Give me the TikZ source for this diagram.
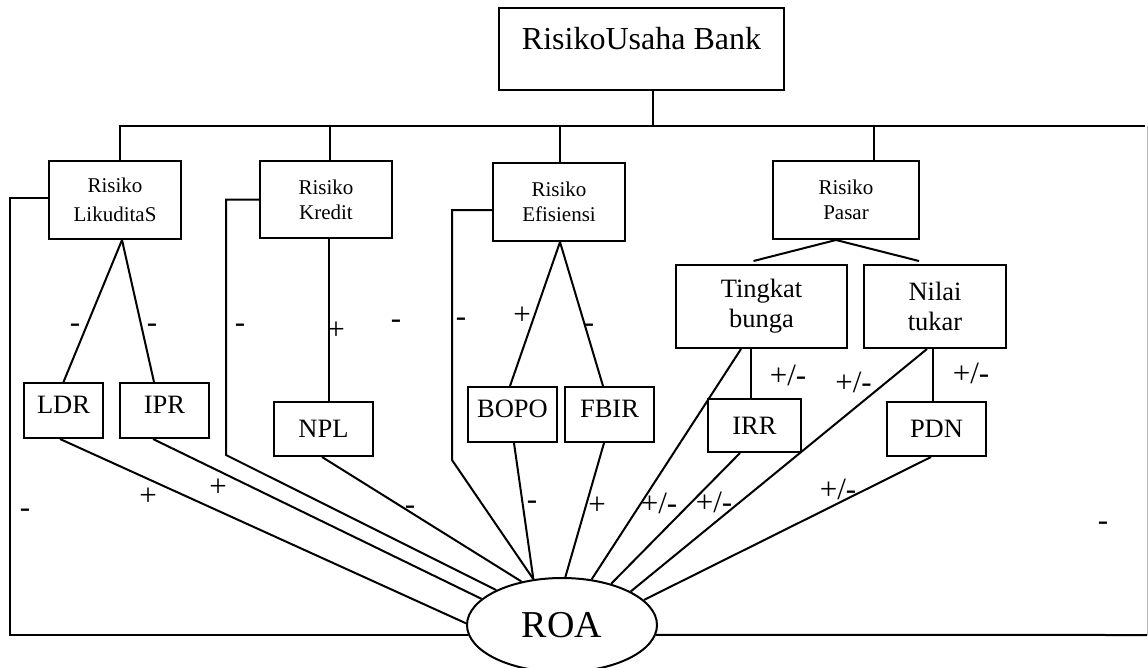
\documentclass[tikz,border=0pt]{standalone}
\usepackage{fontspec}
\setmainfont{Liberation Serif}
\usetikzlibrary{shapes.geometric}
\newcommand\fRsk{\fontsize{21}{25}\selectfont}
\newcommand\fRskL{\fontsize{21}{29}\selectfont}
\newcommand\fBx{\fontsize{26.5}{30}\selectfont}
\newcommand\fLb{\fontsize{31}{36}\selectfont}
\newcommand\fTp{\fontsize{32}{38}\selectfont}
\newcommand\fRoa{\fontsize{38}{42}\selectfont}
\begin{document}
\begin{tikzpicture}[x=1pt,y=-1pt,line width=2pt,
  rbox/.style={draw,inner sep=0pt,align=center,font=\fRsk},
  mbox/.style={draw,inner sep=0pt,align=center,font=\fBx,minimum height=83pt},
  sbox/.style={draw,inner sep=0pt,font=\fBx,anchor=base},
  lab/.style={inner sep=0pt,font=\fLb,anchor=base}]
\useasboundingbox (0,0) rectangle (1148,667);
% boxes
\node[draw,inner sep=0pt,font=\fTp,minimum width=285pt,text height=41pt,text depth=41pt,anchor=base] (top) at (641.5,49) {RisikoUsaha Bank};
\node[rbox,font=\fRskL,minimum width=132pt,minimum height=78pt] (lik) at (115,200) {Risiko\\LikuditaS};
\node[rbox,minimum width=132pt,minimum height=77pt] (kre) at (326,199.5) {Risiko\\Kredit};
\node[rbox,minimum width=132pt,minimum height=78pt] (efi) at (559,202) {Risiko\\Efisiensi};
\node[rbox,minimum width=146pt,minimum height=78pt] (pas) at (846,200) {Risiko\\Pasar};
\node[mbox,minimum width=171pt] (ting) at (761.5,306.5) {Tingkat\\bunga};
\node[mbox,minimum width=142pt] (nil) at (935,306.5) {Nilai\\tukar};
\node[sbox,minimum width=79pt,text height=30pt,text depth=25pt] (ldr) at (63.5,413) {LDR};
\node[sbox,minimum width=89pt,text height=30pt,text depth=25pt] (ipr) at (164.5,413) {IPR};
\node[sbox,minimum width=99pt,text height=35pt,text depth=19pt] (npl) at (323.5,437) {NPL};
\node[sbox,minimum width=89pt,text height=30pt,text depth=25pt] (bopo) at (512.5,417) {BOPO};
\node[sbox,minimum width=89pt,text height=30pt,text depth=25pt] (fbir) at (609.5,417) {FBIR};
\node[sbox,minimum width=93pt,text height=35pt,text depth=18pt] (irr) at (754.5,434) {IRR};
\node[sbox,minimum width=99pt,text height=35pt,text depth=19pt] (pdn) at (936.5,437) {PDN};
\node[draw,ellipse,inner sep=0pt,minimum width=190pt,minimum height=94pt,font=\fRoa] (roa) at (562,625) {ROA};
% coordinates
\coordinate (busR) at (1145,126);
\coordinate (tr) at (1147,126);
\coordinate (br) at (1147,635);
\coordinate (lc) at (10,198);
\coordinate (kc1) at (226,199.5);
\coordinate (kc2) at (226,455);
\coordinate (ec1) at (452,210);
\coordinate (ec2) at (452,460);
% bus
\draw ([xshift=5pt]lik.north) |- (busR);
\draw ([xshift=4pt]kre.north) -- ([xshift=4pt]kre.north |- busR);
\draw ([xshift=1pt]efi.north) -- ([xshift=1pt]efi.north |- busR);
\draw ([xshift=28pt]pas.north) -- ([xshift=28pt]pas.north |- busR);
\draw ([xshift=11pt]top.south) -- ([xshift=11pt]top.south |- busR);
\draw[gray!55,line width=0.8pt] (tr) -- (br);
% tree
\draw ([xshift=7pt]lik.south) -- (ldr.north);
\draw ([xshift=7pt]lik.south) -- ([xshift=-10.5pt]ipr.north);
\draw ([xshift=3pt]kre.south) -- ([xshift=3pt]kre.south |- npl.north);
\draw ([xshift=1pt]efi.south) -- ([xshift=-2.5pt]bopo.north);
\draw ([xshift=1pt]efi.south) -- ([xshift=-6.5pt]fbir.north);
\draw ([xshift=-10pt]pas.south) -- ([xshift=-8pt,yshift=3pt]ting.north);
\draw ([xshift=-10pt]pas.south) -- ([xshift=-16pt,yshift=3pt]nil.north);
\draw ([xshift=-10.5pt]ting.south) -- ([xshift=-10.5pt]ting.south |- irr.north);
\draw ([xshift=-2pt]nil.south) -- ([xshift=-2pt]nil.south |- pdn.north);
% to ROA
\draw ([yshift=2pt]lik.west) -- (lc) |- (roa.186);
\draw (roa.354) -- (br);
\draw (kre.west) -- (kc1) -- (kc2) -- (roa.152);
\draw ([yshift=-8pt]efi.west) -- (ec1) -- (ec2) -- (roa.122);
\draw ([xshift=-3.5pt]ldr.south) -- (roa.179);
\draw ([xshift=-11.5pt]ipr.south) -- (roa.162);
\draw ([xshift=-1.5pt]npl.south) -- (roa.133);
\draw ([xshift=1.5pt]bopo.south) -- (roa.122);
\draw ([xshift=-5.5pt]fbir.south) -- (roa.86);
\draw ([xshift=-20.5pt]ting.south) -- (roa.57);
\draw ([xshift=-14.5pt]irr.south) -- (roa.40);
\draw ([xshift=-8pt]nil.south) -- (roa.26);
\draw ([xshift=-5.5pt]pdn.south) -- (roa.17);
% labels
\node[lab] (l1) at (75,332) {-};
\node[lab] (l2) at (152,332) {-};
\node[lab] (l3) at (240,332) {-};
\node[lab] (l4) at (336,339) {+};
\node[lab] (l5) at (396,328) {-};
\node[lab] (l6) at (461,326) {-};
\node[lab] (l7) at (522,324) {+};
\node[lab] (l8) at (589,332) {-};
\node[lab] (l9) at (788,385) {+/-};
\node[lab] (l10) at (853.5,392) {+/-};
\node[lab] (l11) at (971,383) {+/-};
\node[lab] (l12) at (25,517) {-};
\node[lab] (l13) at (148,505) {+};
\node[lab] (l14) at (218,496) {+};
\node[lab] (l15) at (410,514) {-};
\node[lab] (l16) at (532,509) {-};
\node[lab] (l17) at (597,514) {+};
\node[lab] (l18) at (659,513) {+/-};
\node[lab] (l19) at (714,512) {+/-};
\node[lab] (l20) at (838,499) {+/-};
\node[lab] (l21) at (1103,530) {-};
\end{tikzpicture}
\end{document}
